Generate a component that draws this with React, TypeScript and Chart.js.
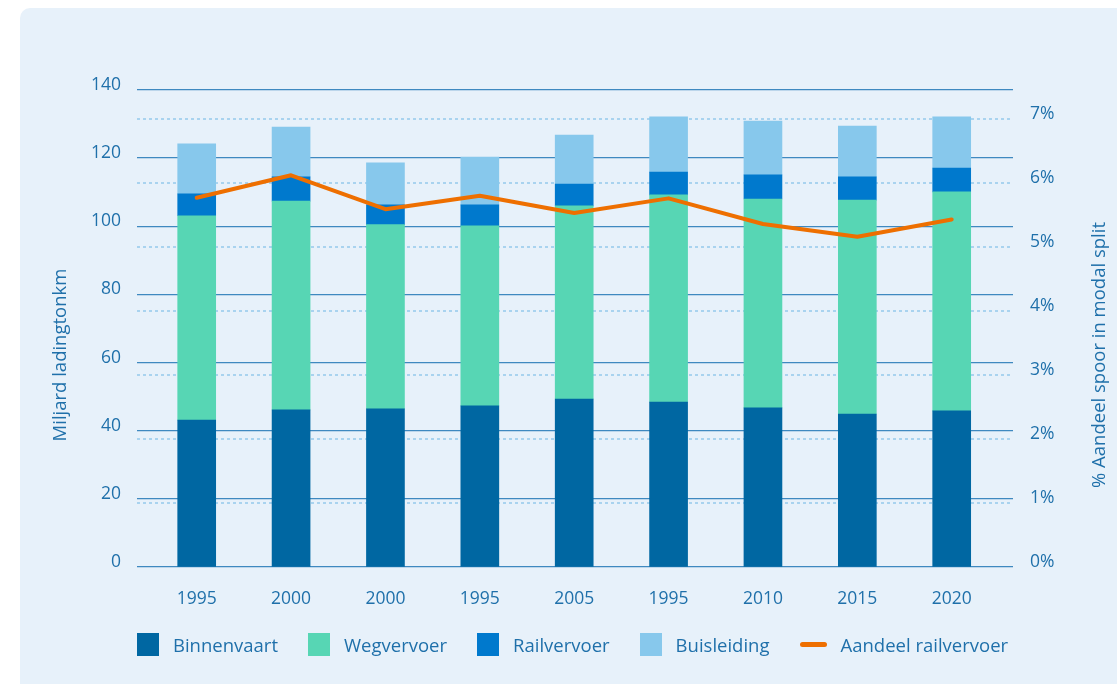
import React, { useEffect, useRef } from 'react';
import { Chart, registerables } from 'chart.js';

Chart.register(...registerables);

// ---- data ----
const categories = ['1995', '2000', '2000', '1995', '2005', '1995', '2010', '2015', '2020'];
const binnenvaart = [43.1, 46.1, 46.4, 47.3, 49.3, 48.4, 46.7, 44.9, 45.8];
const wegvervoer = [60.0, 61.3, 54.1, 52.8, 56.7, 60.8, 61.3, 62.8, 64.3];
const railvervoer = [6.4, 7.1, 5.8, 6.2, 6.4, 6.7, 7.1, 6.8, 7.0];
const buisleiding = [14.7, 14.6, 12.3, 14.0, 14.4, 16.2, 15.8, 14.9, 15.0];
const aandeelRailvervoer = [5.77, 6.12, 5.59, 5.8, 5.53, 5.76, 5.36, 5.16, 5.43];
const leftTicks = [0, 20, 40, 60, 80, 100, 120, 140];
const rightTicks = [0, 1, 2, 3, 4, 5, 6, 7];
const seriesNames = ['Binnenvaart', 'Wegvervoer', 'Railvervoer', 'Buisleiding', 'Aandeel railvervoer'];
const leftTitle = 'Miljard ladingtonkm';
const rightTitle = '% Aandeel spoor in modal split';

// ---- styles ----
const COLORS = ['#0067a2', '#57d6b4', '#0079cd', '#87c8ec'];
const LINE_COLOR = '#ee6f00';
const TEXT = '#1f70aa';
const FONT = '"Open Sans", "Noto Sans", sans-serif';

const toPoints = (arr: number[]) => arr.map((v, i) => ({ x: i, y: v }));

const titlePlugin = {
  id: 'axisTitlesCustom',
  afterDraw(chart: any) {
    const ctx = chart.ctx;
    const ca = chart.chartArea;
    ctx.save();
    ctx.fillStyle = TEXT;
    ctx.font = `18.5px ${FONT}`;
    ctx.textAlign = 'center';
    ctx.textBaseline = 'middle';
    ctx.save();
    ctx.translate(61, ca.bottom - 212);
    ctx.rotate(-Math.PI / 2);
    ctx.fillText(leftTitle, 0, 0);
    ctx.restore();
    ctx.save();
    ctx.translate(1100, ca.bottom - 212);
    ctx.rotate(-Math.PI / 2);
    ctx.fillText(rightTitle, 0, 0);
    ctx.restore();
    ctx.restore();
  },
};

export default function App() {
  const ref = useRef<HTMLCanvasElement | null>(null);

  useEffect(() => {
    if (!ref.current) return;
    const barSeries = [binnenvaart, wegvervoer, railvervoer, buisleiding];
    const chart = new Chart(ref.current, {
      type: 'bar',
      data: {
        datasets: [
          {
            type: 'line',
            label: seriesNames[4],
            data: toPoints(aandeelRailvervoer),
            yAxisID: 'y2',
            borderColor: LINE_COLOR,
            backgroundColor: LINE_COLOR,
            borderWidth: 4,
            pointRadius: 0,
            tension: 0,
            borderJoinStyle: 'round',
            borderCapStyle: 'round',
            order: 0,
          } as any,
          ...barSeries.map((s, k) => ({
            type: 'bar',
            label: seriesNames[k],
            data: toPoints(s),
            yAxisID: 'y',
            backgroundColor: COLORS[k],
            borderWidth: 0,
            barThickness: 38,
            stack: 'a',
            order: 1,
          } as any)),
        ],
      },
      options: {
        responsive: false,
        animation: false,
        devicePixelRatio: 1,
        layout: { padding: { top: 90, left: 0, right: 0, bottom: 0 } },
        plugins: {
          legend: { display: false },
          tooltip: { enabled: false },
        },
        scales: {
          x: {
            type: 'linear',
            offset: false,
            min: -0.6326,
            max: 8.6495,
            stacked: true,
            grid: { display: false, drawTicks: false, offset: false },
            border: { display: false },
            afterBuildTicks: (s: any) => {
              s.ticks = categories.map((_, i) => ({ value: i }));
            },
            afterFit: (s: any) => {
              s.height = 117;
            },
            ticks: {
              callback: (v: any) => categories[v as number] ?? '',
              color: TEXT,
              font: { family: FONT, size: 17.5 },
              padding: 22,
              autoSkip: false,
              maxRotation: 0,
            },
          },
          y: {
            type: 'linear',
            position: 'left',
            stacked: true,
            min: 0,
            max: 140,
            afterBuildTicks: (s: any) => {
              s.ticks = leftTicks.map((v) => ({ value: v }));
            },
            afterFit: (s: any) => {
              s.width = 137;
            },
            grid: { color: '#3f89c0', lineWidth: 1.3, drawTicks: false },
            border: { display: false },
            ticks: {
              color: TEXT,
              font: { family: FONT, size: 17.5 },
              padding: 16,
              labelOffset: -5,
            },
          },
          y2: {
            type: 'linear',
            position: 'right',
            stacked: false,
            min: 0,
            max: 7.453,
            afterBuildTicks: (s: any) => {
              s.ticks = rightTicks.map((v) => ({ value: v }));
            },
            afterFit: (s: any) => {
              s.width = 104;
            },
            grid: {
              color: (c: any) => (c.tick && c.tick.value === 0 ? 'rgba(0,0,0,0)' : '#a9d3ef'),
              lineWidth: 2,
              drawTicks: false,
            },
            border: { display: false, dash: [3, 3] },
            ticks: {
              color: TEXT,
              font: { family: FONT, size: 17.5 },
              padding: 17,
              labelOffset: -5,
              callback: (v: any) => `${v}%`,
            },
          },
        },
      } as any,
      plugins: [titlePlugin],
    });
    return () => chart.destroy();
  }, []);

  const legendItems = seriesNames.map((name, i) => ({
    name,
    color: i < 4 ? COLORS[i] : LINE_COLOR,
    isLine: i === 4,
  }));

  return (
    <div
      style={{
        position: 'fixed',
        left: 0,
        top: 0,
        width: 1117,
        height: 684,
        background: '#ffffff',
        overflow: 'hidden',
      }}
    >
      <div
        style={{
          position: 'absolute',
          left: 20,
          top: 8,
          width: 1120,
          height: 700,
          background: '#e7f1fa',
          borderRadius: 10,
        }}
      />
      <canvas
        ref={ref}
        width={1117}
        height={684}
        style={{ position: 'absolute', left: 0, top: 0, width: 1117, height: 684 }}
      />
      <div
        style={{
          position: 'absolute',
          left: 137,
          top: 633,
          height: 23,
          display: 'flex',
          alignItems: 'center',
          fontFamily: FONT,
          fontSize: 18.5,
          color: TEXT,
          whiteSpace: 'nowrap',
        }}
      >
        {legendItems.map((it) => (
          <div key={it.name} style={{ display: 'flex', alignItems: 'center', marginRight: 30 }}>
            {it.isLine ? (
              <span
                style={{
                  display: 'inline-block',
                  width: 27,
                  height: 5,
                  borderRadius: 3,
                  background: it.color,
                  marginRight: 14,
                }}
              />
            ) : (
              <span
                style={{
                  display: 'inline-block',
                  width: 22,
                  height: 23,
                  background: it.color,
                  marginRight: 14,
                }}
              />
            )}
            <span>{it.name}</span>
          </div>
        ))}
      </div>
    </div>
  );
}
